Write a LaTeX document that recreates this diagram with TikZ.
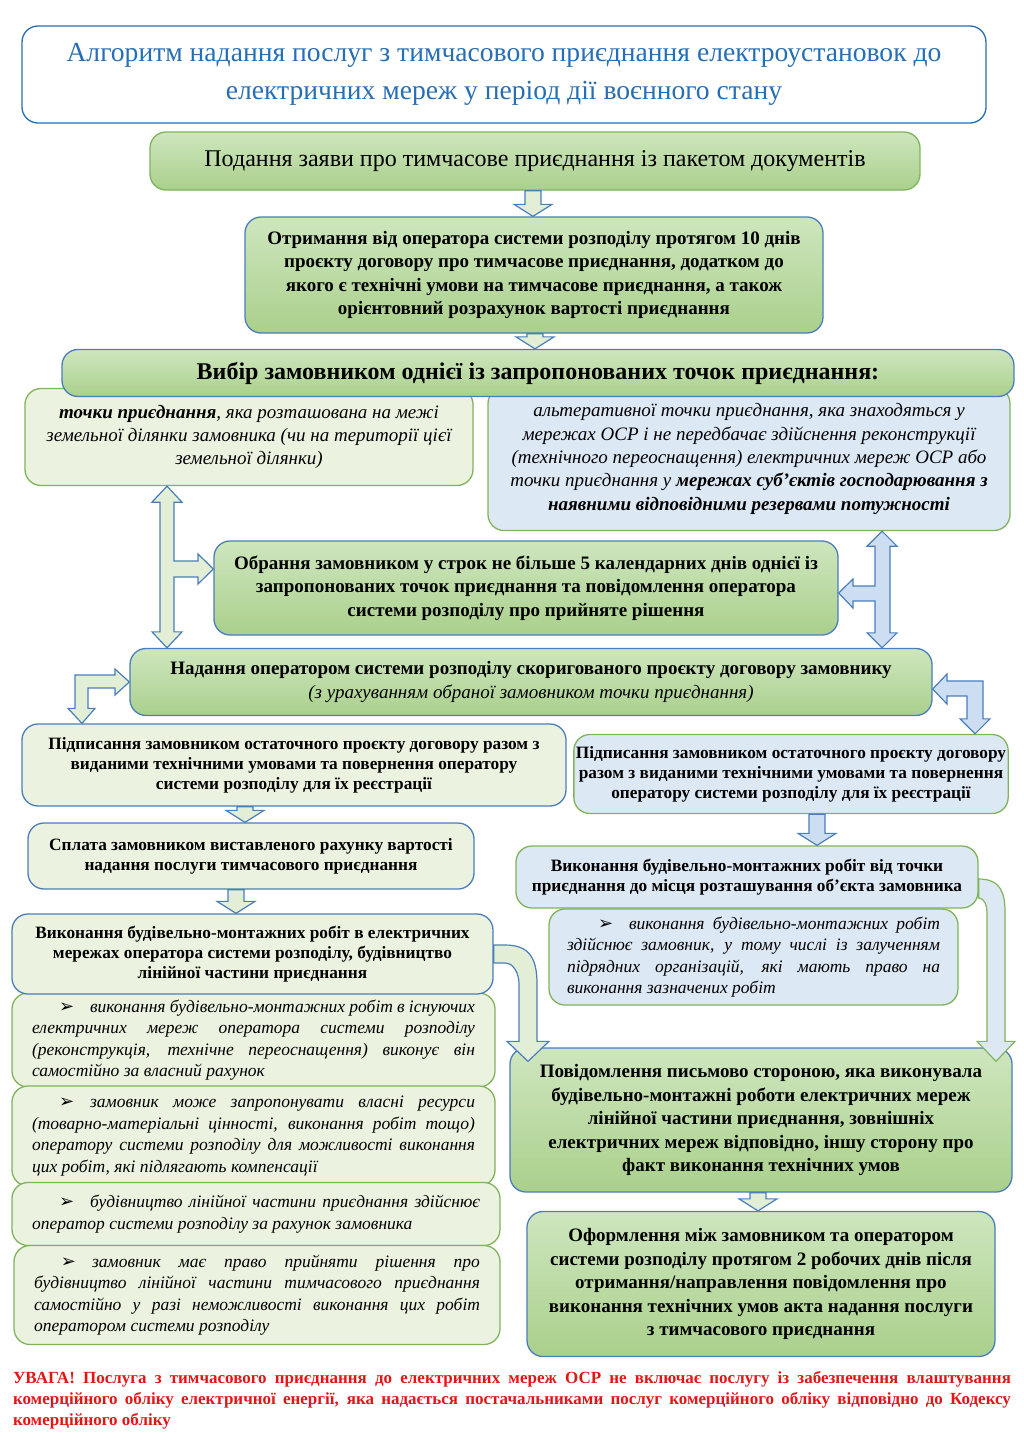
\documentclass[tikz,border=0pt]{standalone}
\usepackage{fontspec}
\setmainfont{Liberation Serif}
\newfontfamily\symfont{DejaVu Sans}
\usetikzlibrary{calc}

\definecolor{bordblue}{RGB}{74,126,187}
\definecolor{bordgreen}{RGB}{128,180,90}
\definecolor{titleblue}{RGB}{40,110,178}
\definecolor{grtop}{RGB}{206,230,190}
\definecolor{grbot}{RGB}{170,208,140}
\definecolor{palegreen}{RGB}{235,242,224}
\definecolor{paleblue}{RGB}{221,232,245}
\definecolor{arrowgreen}{RGB}{226,239,214}
\definecolor{arrowblue}{RGB}{205,222,243}
\definecolor{warnred}{RGB}{226,22,22}

\newcommand\bul{{\symfont\bfseries\fontsize{18}{0}\selectfont ➢}}

\newcommand\dnarrow[4][arrgreen]{%
  \draw[#1] let \p1=(#3.south), \p2=(#4.north) in
    (#2pt-8pt,\y1) -- (#2pt+8pt,\y1) -- (#2pt+8pt,\y2+12pt) -- (#2pt+19pt,\y2+12pt)
    -- (#2pt,\y2) -- (#2pt-19pt,\y2+12pt) -- (#2pt-8pt,\y2+12pt) -- cycle;}

\tikzset{
  box/.style={rounded corners=16pt, line width=1.3pt, align=center, inner sep=2pt},
  titlebox/.style={box, draw=titleblue, fill=white, text=titleblue,
    font=\fontsize{27.6}{38}\selectfont},
  mainbox/.style={box, draw=bordblue, top color=grtop, bottom color=grbot},
  subbox/.style={box, draw=bordgreen, top color=grtop, bottom color=grbot},
  pgbox/.style={box, draw=bordblue, fill=palegreen},
  pggbox/.style={box, draw=bordgreen, fill=palegreen},
  pbbox/.style={box, draw=bordgreen, fill=paleblue},
  boldtxt/.style={font=\fontsize{19}{23.5}\selectfont\bfseries},
  smalltxt/.style={font=\fontsize{17.3}{20}\selectfont\bfseries},
  itxt/.style={font=\fontsize{19}{23.4}\selectfont\itshape},
  bultxt/.style={font=\fontsize{17.5}{21.5}\selectfont\itshape, align=justify},
  arrgreen/.style={draw=bordblue, fill=arrowgreen, line width=1.2pt, line join=miter},
  arrblue/.style={draw=bordblue, fill=arrowblue, line width=1.2pt, line join=miter},
  arrbluegr/.style={draw=bordgreen, fill=paleblue, line width=1.2pt, line join=miter}
}

\begin{document}
\begin{tikzpicture}[x=1pt, y=-1pt]
  \useasboundingbox (0,0) rectangle (1024,1448);

  \node[titlebox, minimum width=964pt, minimum height=97pt] (title) at (504,74.5)
    {Алгоритм надання послуг з тимчасового приєднання електроустановок до\\
     електричних мереж у період дії воєнного стану};
  \node[subbox, minimum width=770pt, minimum height=58pt, font=\fontsize{24}{28}\selectfont] (submit) at (535,161)
    {Подання заяви про тимчасове приєднання із пакетом документів};
  \node[mainbox, boldtxt, minimum width=578pt, minimum height=116pt] (receive) at (534,275)
    {Отримання від оператора системи розподілу протягом 10 днів\\
     проєкту договору про тимчасове приєднання, додатком до\\
     якого є технічні умови на тимчасове приєднання, а також\\
     орієнтовний розрахунок вартості приєднання};

  \node[pggbox, itxt, minimum width=448pt, minimum height=97pt] (pointA) at (249,437)
    {\textbf{точки приєднання}, яка розташована на межі\\
     земельної ділянки замовника (чи на території цієї\\
     земельної ділянки)};
  \node[pbbox, itxt, minimum width=522pt, minimum height=143pt] (pointB) at (749,459)
    {альтеративної точки приєднання, яка знаходяться у\\
     мережах ОСР і не передбачає здійснення реконструкції\\
     (технічного переоснащення) електричних мереж ОСР або\\
     точки приєднання у \textbf{мережах суб'єктів господарювання з}\\
     \textbf{наявними відповідними резервами потужності}};
  \node[mainbox, minimum width=952pt, minimum height=47pt, font=\fontsize{24}{28}\selectfont\bfseries] (choice) at (538,373)
    {Вибір замовником однієї із запропонованих точок приєднання:};

  \node[mainbox, boldtxt, minimum width=624pt, minimum height=94pt] (choose) at (526,588)
    {Обрання замовником у строк не більше 5 календарних днів однієї із\\
     запропонованих точок приєднання та повідомлення оператора\\
     системи розподілу про прийняте рішення};
  \node[mainbox, boldtxt, minimum width=802pt, minimum height=67pt] (give) at (531,682)
    {Надання оператором системи розподілу скоригованого проєкту договору замовнику\\
     {\normalfont\itshape (з урахуванням обраної замовником точки приєднання)}};

  \node[pgbox, smalltxt, minimum width=544pt, minimum height=82pt] (signL) at (294,765)
    {Підписання замовником остаточного проєкту договору разом з\\
     виданими технічними умовами та повернення оператору\\
     системи розподілу для їх реєстрації};
  \node[pbbox, smalltxt, minimum width=434pt, minimum height=79pt] (signR) at (791,774)
    {Підписання замовником остаточного проєкту договору\\
     разом з виданими технічними умовами та повернення\\
     оператору системи розподілу для їх реєстрації};
  \node[pgbox, smalltxt, minimum width=446pt, minimum height=66pt] (pay) at (251,856)
    {Сплата замовником виставленого рахунку вартості\\
     надання послуги тимчасового приєднання};

  \node[pbbox, smalltxt, minimum width=462pt, minimum height=62pt] (buildR) at (747,877)
    {Виконання будівельно-монтажних робіт від точки\\
     приєднання до місця розташування об’єкта замовника};
  \node[pbbox, bultxt, text width=373pt, minimum width=409pt, minimum height=96pt] (noteR) at (753.5,957)
    {\hspace*{31pt}\bul\hspace{16pt}виконання будівельно-монтажних робіт\linebreak
     здійснює замовник, у тому числі із залученням\linebreak
     підрядних організацій, які мають право на\linebreak
     виконання зазначених робіт};

  \node[pggbox, bultxt, text width=443pt, minimum width=483pt, minimum height=94pt] (bulA) at (253.5,1040)
    {\hspace*{27pt}\bul\hspace{16pt}виконання будівельно-монтажних робіт в існуючих\linebreak
     електричних мереж оператора системи розподілу\linebreak
     (реконструкція, технічне переоснащення) виконує він\linebreak
     самостійно за власний рахунок};
  \node[pggbox, bultxt, text width=443pt, minimum width=483pt, minimum height=100pt] (bulB) at (253.5,1136)
    {\hspace*{27pt}\bul\hspace{16pt}замовник може запропонувати власні ресурси\linebreak
     (товарно-матеріальні цінності, виконання робіт тощо)\linebreak
     оператору системи розподілу для можливості виконання\linebreak
     цих робіт, які підлягають компенсації};
  \node[pggbox, bultxt, text width=448pt, minimum width=488pt, minimum height=63pt] (bulC) at (256,1214)
    {\hspace*{27pt}\bul\hspace{16pt}будівництво лінійної частини приєднання здійснює\linebreak
     оператор системи розподілу за рахунок замовника};
  \node[pggbox, bultxt, text width=446pt, minimum width=486pt, minimum height=99pt] (bulD) at (257,1295)
    {\hspace*{27pt}\bul\hspace{16pt}замовник має право прийняти рішення про\linebreak
     будівництво лінійної частини тимчасового приєднання\linebreak
     самостійно у разі неможливості виконання цих робіт\linebreak
     оператором системи розподілу};
  \node[pgbox, smalltxt, minimum width=481pt, minimum height=80pt] (buildL) at (252.5,954)
    {Виконання будівельно-монтажних робіт в електричних\\
     мережах оператора системи розподілу, будівництво\\
     лінійної частини приєднання};

  \node[mainbox, boldtxt, minimum width=502pt, minimum height=144pt] (notify) at (761,1120)
    {Повідомлення письмово стороною, яка виконувала\\
     будівельно-монтажні роботи електричних мереж\\
     лінійної частини приєднання, зовнішніх\\
     електричних мереж відповідно, іншу сторону про\\
     факт виконання технічних умов};
  \node[mainbox, boldtxt, minimum width=468pt, minimum height=145pt] (formal) at (761,1284)
    {Оформлення між замовником та оператором\\
     системи розподілу протягом 2 робочих днів після\\
     отримання/направлення повідомлення про\\
     виконання технічних умов акта надання послуги\\
     з тимчасового приєднання};

  \node[text=warnred, text width=998pt, align=justify, inner sep=0pt,
    font=\fontsize{17}{21}\selectfont\bfseries] (warn) at (512,1400)
    {УВАГА! Послуга з тимчасового приєднання до електричних мереж ОСР не включає послугу із забезпечення влаштування\linebreak
     комерційного обліку електричної енергії, яка надається постачальниками послуг комерційного обліку відповідно до Кодексу\linebreak
     комерційного обліку};

  \dnarrow{533}{submit}{receive}
  \dnarrow{535}{receive}{choice}
  \dnarrow{245}{signL}{pay}
  \dnarrow{236}{pay}{buildL}
  \dnarrow[arrblue]{817}{signR}{buildR}
  \dnarrow{758}{notify}{formal}

  \draw[arrgreen] let \p1=(pointA.south), \p2=(give.north), \p3=(choose.west) in
    (167pt,\y1) -- (182pt,\y1-16pt) -- (174pt,\y1-16pt) -- (174pt,\y3+27pt)
    -- (198pt,\y3+27pt) -- (198pt,\y3+34pt) -- (\x3,\y3+19pt) -- (198pt,\y3+4pt)
    -- (198pt,\y3+11pt) -- (174pt,\y3+11pt) -- (174pt,\y2+16pt) -- (182pt,\y2+16pt)
    -- (167pt,\y2) -- (152pt,\y2+16pt) -- (160pt,\y2+16pt) -- (160pt,\y1-16pt)
    -- (152pt,\y1-16pt) -- cycle;
  \draw[arrblue] let \p1=(pointB.south), \p2=(give.north), \p3=(choose.east) in
    (882pt,\y1) -- (897pt,\y1-15pt) -- (890pt,\y1-15pt) -- (890pt,\y2+15pt)
    -- (897pt,\y2+15pt) -- (882pt,\y2) -- (867pt,\y2+15pt) -- (875pt,\y2+15pt)
    -- (875pt,\y3-13pt) -- (853pt,\y3-13pt) -- (853pt,\y3-20pt) -- (\x3,\y3-5pt)
    -- (853pt,\y3+9pt) -- (853pt,\y3+2pt) -- (875pt,\y3+2pt) -- (875pt,\y1-15pt)
    -- (867pt,\y1-15pt) -- cycle;
  \draw[arrgreen] let \p1=(give.west), \p2=(signL.north) in
    (\x1,\y1) -- (115pt,\y1+13pt) -- (115pt,\y1+7pt) -- (75pt,\y1+7pt)
    -- (75pt,\y2+15pt) -- (68pt,\y2+15pt) -- (82pt,\y2) -- (95pt,\y2+15pt)
    -- (88pt,\y2+15pt) -- (88pt,\y1-6pt) -- (115pt,\y1-6pt) -- (115pt,\y1-13pt) -- cycle;
  \draw[arrblue] let \p1=(give.east), \p2=(signR.north) in
    (\x1,\y1-7pt) -- (947pt,\y1+8pt) -- (947pt,\y1+1pt) -- (983pt,\y1+1pt)
    -- (983pt,\y2+15pt) -- (990pt,\y2+15pt) -- (975pt,\y2) -- (960pt,\y2+15pt)
    -- (967pt,\y2+15pt) -- (967pt,\y1-14pt) -- (947pt,\y1-14pt) -- (947pt,\y1-22pt) -- cycle;
  \draw[arrgreen] let \p1=(buildL.east), \p2=(notify.north) in
    (\x1,\y1+9pt) -- (505pt,\y1+9pt) .. controls (530pt,\y1+9pt) and (537pt,\y1-5pt) .. (537pt,\y1-30pt)
    -- (537pt,\y2+6pt) -- (549pt,\y2+6pt) -- (528pt,\y2-14pt) -- (507pt,\y2+6pt) -- (519pt,\y2+6pt)
    -- (519pt,\y1-30pt) .. controls (519pt,\y1-20pt) and (514pt,\y1-9pt) .. (505pt,\y1-9pt)
    -- (\x1,\y1-9pt) -- cycle;
  \draw[arrbluegr] let \p1=(buildR.east), \p2=(notify.north) in
    (\x1,\y1-2pt) .. controls (1000pt,\y1-2pt) and (1005pt,\y1-15pt) .. (1005pt,\y1-35pt)
    -- (1005pt,\y2+6pt) -- (1015pt,\y2+6pt) -- (996pt,\y2-14pt) -- (977pt,\y2+6pt) -- (987pt,\y2+6pt)
    -- (987pt,\y1-35pt) .. controls (987pt,\y1-28pt) and (984pt,\y1-21pt) .. (\x1,\y1-21pt) -- cycle;
\end{tikzpicture}
\end{document}
